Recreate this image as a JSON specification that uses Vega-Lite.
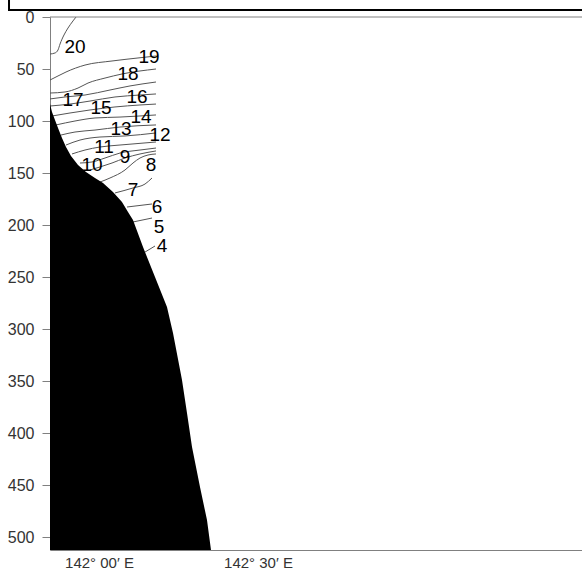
{
  "$schema": "https://vega.github.io/schema/vega-lite/v6.json",
  "autosize": "none",
  "width": 532,
  "height": 533,
  "padding": {"left": 50, "top": 17, "right": 0, "bottom": 32},
  "background": "white",
  "config": {"view": {"stroke": null}},
  "datasets": {
    "floor": [
      {"lon": 141.8459, "depth": 83.7},
      {"lon": 141.8522, "depth": 91.3},
      {"lon": 141.8616, "depth": 99.0},
      {"lon": 141.8711, "depth": 106.7},
      {"lon": 141.8836, "depth": 116.3},
      {"lon": 141.8962, "depth": 125.0},
      {"lon": 141.9119, "depth": 133.7},
      {"lon": 141.9340, "depth": 142.3},
      {"lon": 141.9591, "depth": 149.0},
      {"lon": 141.9874, "depth": 154.8},
      {"lon": 142.0126, "depth": 159.6},
      {"lon": 142.0440, "depth": 168.3},
      {"lon": 142.0723, "depth": 177.9},
      {"lon": 142.0912, "depth": 187.5},
      {"lon": 142.1069, "depth": 195.2},
      {"lon": 142.1384, "depth": 221.2},
      {"lon": 142.1761, "depth": 250.0},
      {"lon": 142.2138, "depth": 278.8},
      {"lon": 142.2327, "depth": 303.8},
      {"lon": 142.2610, "depth": 349.0},
      {"lon": 142.2767, "depth": 380.8},
      {"lon": 142.2925, "depth": 413.5},
      {"lon": 142.3176, "depth": 451.9},
      {"lon": 142.3396, "depth": 483.7},
      {"lon": 142.3522, "depth": 512.5}
    ],
    "contours": [
      {"level": 20, "o": 1, "lon": 141.9277, "depth": 0},
      {"level": 20, "o": 2, "lon": 141.9182, "depth": 3.8},
      {"level": 20, "o": 3, "lon": 141.9025, "depth": 10.6},
      {"level": 20, "o": 4, "lon": 141.8899, "depth": 17.3},
      {"level": 20, "o": 5, "lon": 141.8774, "depth": 26.0},
      {"level": 20, "o": 6, "lon": 141.8711, "depth": 31.7},
      {"level": 20, "o": 7, "lon": 141.8616, "depth": 34.6},
      {"level": 20, "o": 8, "lon": 141.8459, "depth": 35.6},
      {"level": 19, "o": 1, "lon": 141.8459, "depth": 60.6},
      {"level": 19, "o": 2, "lon": 141.8711, "depth": 56.7},
      {"level": 19, "o": 3, "lon": 141.8962, "depth": 52.9},
      {"level": 19, "o": 4, "lon": 141.9560, "depth": 46.2},
      {"level": 19, "o": 5, "lon": 142.0409, "depth": 42.3},
      {"level": 19, "o": 6, "lon": 142.1226, "depth": 39.4},
      {"level": 19, "o": 7, "lon": 142.1792, "depth": 37.5},
      {"level": 18, "o": 1, "lon": 141.8459, "depth": 73.1},
      {"level": 18, "o": 2, "lon": 141.8931, "depth": 72.1},
      {"level": 18, "o": 3, "lon": 141.9340, "depth": 68.3},
      {"level": 18, "o": 4, "lon": 141.9654, "depth": 63.5},
      {"level": 18, "o": 5, "lon": 142.0189, "depth": 58.7},
      {"level": 18, "o": 6, "lon": 142.0723, "depth": 54.8},
      {"level": 18, "o": 7, "lon": 142.1792, "depth": 50.0},
      {"level": 17, "o": 1, "lon": 141.8459, "depth": 78.8},
      {"level": 17, "o": 2, "lon": 141.8931, "depth": 76.9},
      {"level": 17, "o": 3, "lon": 141.9560, "depth": 75.0},
      {"level": 17, "o": 4, "lon": 142.0346, "depth": 70.2},
      {"level": 17, "o": 5, "lon": 142.0975, "depth": 66.3},
      {"level": 17, "o": 6, "lon": 142.1792, "depth": 62.5},
      {"level": 16, "o": 1, "lon": 141.8459, "depth": 85.6},
      {"level": 16, "o": 2, "lon": 141.9088, "depth": 83.7},
      {"level": 16, "o": 3, "lon": 141.9717, "depth": 80.8},
      {"level": 16, "o": 4, "lon": 142.0503, "depth": 76.9},
      {"level": 16, "o": 5, "lon": 142.1289, "depth": 75.0},
      {"level": 16, "o": 6, "lon": 142.1792, "depth": 74.0},
      {"level": 15, "o": 1, "lon": 141.8522, "depth": 95.2},
      {"level": 15, "o": 2, "lon": 141.9088, "depth": 92.3},
      {"level": 15, "o": 3, "lon": 141.9717, "depth": 89.4},
      {"level": 15, "o": 4, "lon": 142.0503, "depth": 86.5},
      {"level": 15, "o": 5, "lon": 142.1289, "depth": 84.6},
      {"level": 15, "o": 6, "lon": 142.1792, "depth": 83.7},
      {"level": 14, "o": 1, "lon": 141.8648, "depth": 103.8},
      {"level": 14, "o": 2, "lon": 141.9245, "depth": 100.0},
      {"level": 14, "o": 3, "lon": 141.9874, "depth": 97.1},
      {"level": 14, "o": 4, "lon": 142.0660, "depth": 96.2},
      {"level": 14, "o": 5, "lon": 142.1792, "depth": 94.2},
      {"level": 13, "o": 1, "lon": 141.8805, "depth": 113.5},
      {"level": 13, "o": 2, "lon": 141.9245, "depth": 110.6},
      {"level": 13, "o": 3, "lon": 141.9874, "depth": 108.7},
      {"level": 13, "o": 4, "lon": 142.0660, "depth": 105.8},
      {"level": 13, "o": 5, "lon": 142.1792, "depth": 103.8},
      {"level": 12, "o": 1, "lon": 141.8962, "depth": 123.1},
      {"level": 12, "o": 2, "lon": 141.9403, "depth": 118.3},
      {"level": 12, "o": 3, "lon": 142.0031, "depth": 115.4},
      {"level": 12, "o": 4, "lon": 142.0818, "depth": 114.4},
      {"level": 12, "o": 5, "lon": 142.1792, "depth": 111.5},
      {"level": 11, "o": 1, "lon": 141.9151, "depth": 131.7},
      {"level": 11, "o": 2, "lon": 141.9560, "depth": 127.9},
      {"level": 11, "o": 3, "lon": 142.0031, "depth": 125.0},
      {"level": 11, "o": 4, "lon": 142.0660, "depth": 123.1},
      {"level": 11, "o": 5, "lon": 142.1792, "depth": 120.2},
      {"level": 10, "o": 1, "lon": 141.9403, "depth": 140.4},
      {"level": 10, "o": 2, "lon": 141.9780, "depth": 139.4},
      {"level": 10, "o": 3, "lon": 142.0189, "depth": 135.6},
      {"level": 10, "o": 4, "lon": 142.0660, "depth": 130.8},
      {"level": 10, "o": 5, "lon": 142.1289, "depth": 127.9},
      {"level": 10, "o": 6, "lon": 142.1792, "depth": 126.0},
      {"level": 9, "o": 1, "lon": 141.9717, "depth": 147.1},
      {"level": 9, "o": 2, "lon": 142.0031, "depth": 144.2},
      {"level": 9, "o": 3, "lon": 142.0409, "depth": 140.4},
      {"level": 9, "o": 4, "lon": 142.0818, "depth": 135.6},
      {"level": 9, "o": 5, "lon": 142.1289, "depth": 131.7},
      {"level": 9, "o": 6, "lon": 142.1792, "depth": 128.8},
      {"level": 8, "o": 1, "lon": 142.0031, "depth": 158.7},
      {"level": 8, "o": 2, "lon": 142.0346, "depth": 154.8},
      {"level": 8, "o": 3, "lon": 142.0818, "depth": 147.1},
      {"level": 8, "o": 4, "lon": 142.1069, "depth": 140.4},
      {"level": 8, "o": 5, "lon": 142.1289, "depth": 135.6},
      {"level": 8, "o": 6, "lon": 142.1541, "depth": 132.7},
      {"level": 8, "o": 7, "lon": 142.1792, "depth": 131.7},
      {"level": 7, "o": 1, "lon": 142.0503, "depth": 169.2},
      {"level": 7, "o": 2, "lon": 142.1069, "depth": 164.4},
      {"level": 7, "o": 3, "lon": 142.1447, "depth": 160.6},
      {"level": 7, "o": 4, "lon": 142.1667, "depth": 154.8},
      {"level": 6, "o": 1, "lon": 142.0881, "depth": 182.7},
      {"level": 6, "o": 2, "lon": 142.1667, "depth": 179.8},
      {"level": 5, "o": 1, "lon": 142.1069, "depth": 197.1},
      {"level": 5, "o": 2, "lon": 142.1667, "depth": 193.3},
      {"level": 4, "o": 1, "lon": 142.1447, "depth": 226.0},
      {"level": 4, "o": 2, "lon": 142.1761, "depth": 220.2}
    ],
    "labels": [
      {"text": "20", "lon": 141.9245, "depth": 28.8},
      {"text": "19", "lon": 142.1572, "depth": 38.5},
      {"text": "18", "lon": 142.0912, "depth": 54.8},
      {"text": "17", "lon": 141.9182, "depth": 79.8},
      {"text": "16", "lon": 142.1195, "depth": 76.9},
      {"text": "15", "lon": 142.0063, "depth": 87.5},
      {"text": "14", "lon": 142.1321, "depth": 96.2},
      {"text": "13", "lon": 142.0692, "depth": 107.7},
      {"text": "12", "lon": 142.1918, "depth": 113.5},
      {"text": "11", "lon": 142.0157, "depth": 125.0},
      {"text": "10", "lon": 141.9780, "depth": 142.5},
      {"text": "9", "lon": 142.0818, "depth": 134.6},
      {"text": "8", "lon": 142.1635, "depth": 142.3},
      {"text": "7", "lon": 142.1069, "depth": 166.3},
      {"text": "6", "lon": 142.1824, "depth": 182.7},
      {"text": "5", "lon": 142.1887, "depth": 201.9},
      {"text": "4", "lon": 142.1981, "depth": 220.2}
    ],
    "box": [
      {"lon": 141.717, "lon2": 143.7, "d1": -40, "d2": -6.7}
    ]
  },
  "layer": [
    {
      "data": {"name": "contours"},
      "mark": {"type": "line", "color": "#555555", "strokeWidth": 1, "interpolate": "monotone"},
      "encoding": {
        "x": {
          "field": "lon", "type": "quantitative",
          "scale": {"domain": [141.8459, 143.5189], "nice": false, "zero": false},
          "axis": {
            "title": null,
            "values": [142, 142.5],
            "labelExpr": "datum.value == 142 ? '142° 00′ E' : '142° 30′ E'",
            "ticks": false, "tickSize": 0,
            "grid": false,
            "domainColor": "#808080",
            "labelFont": "Liberation Sans",
            "labelFontSize": 15,
            "labelColor": "#333333",
            "labelPadding": 5,
            "labelBaseline": "top"
          }
        },
        "y": {
          "field": "depth", "type": "quantitative",
          "scale": {"domain": [0, 512.5], "nice": false, "zero": false, "reverse": true},
          "axis": {
            "title": null,
            "values": [0, 50, 100, 150, 200, 250, 300, 350, 400, 450, 500],
            "grid": false,
            "domainColor": "#808080",
            "tickColor": "#808080",
            "tickSize": 8,
            "labelPadding": 8,
            "labelFont": "Liberation Sans",
            "labelFontSize": 16,
            "labelColor": "#333333"
          }
        },
        "detail": {"field": "level", "type": "nominal"},
        "order": {"field": "o", "type": "quantitative"}
      }
    },
    {
      "data": {"name": "floor"},
      "mark": {"type": "area", "color": "black", "orient": "vertical", "interpolate": "linear"},
      "encoding": {
        "x": {"field": "lon", "type": "quantitative"},
        "y": {"field": "depth", "type": "quantitative"},
        "y2": {"datum": 512.5}
      }
    },
    {
      "data": {"values": [{"d": 0}]},
      "mark": {"type": "rule", "color": "#808080", "strokeWidth": 1},
      "encoding": {
        "y": {"field": "d", "type": "quantitative"}
      }
    },
    {
      "data": {"name": "labels"},
      "mark": {
        "type": "text",
        "font": "Liberation Sans",
        "fontSize": 19,
        "color": "black",
        "align": "center",
        "baseline": "middle"
      },
      "encoding": {
        "x": {"field": "lon", "type": "quantitative"},
        "y": {"field": "depth", "type": "quantitative"},
        "text": {"field": "text", "type": "nominal"}
      }
    },
    {
      "data": {"name": "box"},
      "mark": {"type": "rect", "fill": "white", "stroke": "black", "strokeWidth": 2},
      "encoding": {
        "x": {"field": "lon", "type": "quantitative"},
        "x2": {"field": "lon2"},
        "y": {"field": "d1", "type": "quantitative"},
        "y2": {"field": "d2"}
      }
    }
  ]
}
